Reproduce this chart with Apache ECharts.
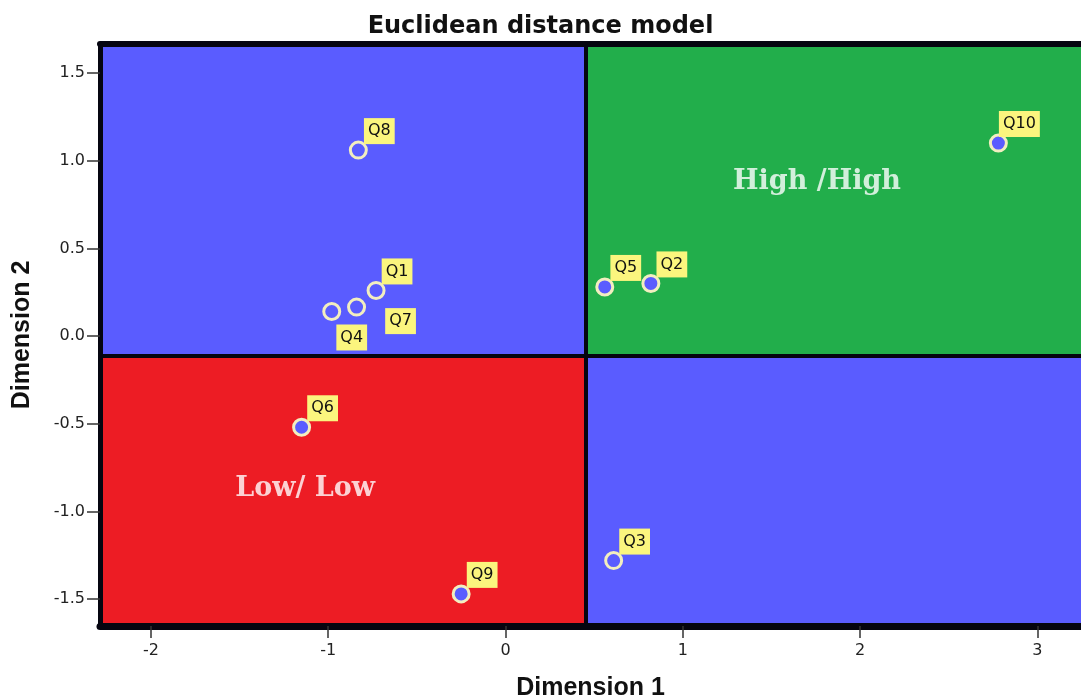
<!DOCTYPE html>
<html>
<head>
<meta charset="utf-8">
<style>
  html, body { margin: 0; padding: 0; background: #ffffff; }
  #chart { width: 1081px; height: 700px; }
</style>
<script src="https://cdn.jsdelivr.net/npm/echarts@6/dist/echarts.min.js"></script>
</head>
<body>
<div id="chart"></div>
<script>
// ---- data ----
var pointNames = ['Q1', 'Q2', 'Q3', 'Q4', 'Q5', 'Q6', 'Q7', 'Q8', 'Q9', 'Q10'];
var dimension1 = [-0.73, 0.82, 0.61, -0.98, 0.56, -1.15, -0.84, -0.83, -0.25, 2.78];
var dimension2 = [0.26, 0.30, -1.28, 0.14, 0.28, -0.52, 0.165, 1.06, -1.47, 1.10];

var xTicks = [-2, -1, 0, 1, 2, 3];
var yTicks = [-1.5, -1.0, -0.5, 0.0, 0.5, 1.0, 1.5];

var xRange = [-2.287, 3.246];
var yRange = [-1.653, 1.665];

// quadrant split points
var splitX = 0.45;
var splitY = -0.11;

var regionNames = ['High /High', 'Low/ Low'];
var regionX = [1.757, -1.13];
var regionY = [0.88, -0.87];

// ---- style ----
var BLUE = '#5a5cff';
var GREEN = '#22ae4b';
var RED = '#ed1c24';
var LABEL_BG = '#fbf57e';
var defaultOffset = [21, -19];
var specialOffsets = { 'Q7': [44, 14], 'Q4': [20, 26] };

var points = pointNames.map(function (n, i) {
  return {
    name: n,
    value: [dimension1[i], dimension2[i]],
    label: { offset: specialOffsets[n] || defaultOffset }
  };
});

var regions = regionNames.map(function (n, i) {
  return { name: n, value: [regionX[i], regionY[i]] };
});

var chart = echarts.init(document.getElementById('chart'), null, { renderer: 'canvas' });

chart.setOption({
  animation: false,
  title: {
    text: 'Euclidean distance model',
    left: 'center',
    top: 10,
    textStyle: { fontFamily: 'DejaVu Sans', fontWeight: 'bold', fontSize: 24, color: '#111' }
  },
  grid: { left: 100, top: 44, right: 0, bottom: 74, containLabel: false, outerBoundsMode: 'none' },
  xAxis: [{
    type: 'value',
    position: 'bottom',
    min: xRange[0],
    max: xRange[1],
    z: 10,
    name: 'Dimension 1',
    nameLocation: 'middle',
    nameGap: 50,
    nameTextStyle: { fontFamily: 'Liberation Sans', fontWeight: 'bold', fontSize: 25, color: '#111' },
    axisLine: { show: true, onZero: false, lineStyle: { color: '#050510', width: 7 } },
    axisTick: { show: true, length: 12, customValues: xTicks, lineStyle: { color: '#333', width: 1.5 } },
    axisLabel: {
      customValues: xTicks, margin: 17,
      fontFamily: 'DejaVu Sans', fontSize: 16, color: '#222',
      formatter: function (v) { return String(Math.round(v)); }
    },
    splitLine: { show: false }
  }, {
    type: 'value',
    position: 'top',
    min: xRange[0],
    max: xRange[1],
    z: 10,
    axisLine: { show: true, onZero: false, lineStyle: { color: '#050510', width: 6 } },
    axisTick: { show: false },
    axisLabel: { show: false },
    splitLine: { show: false }
  }],
  yAxis: {
    type: 'value',
    min: yRange[0],
    max: yRange[1],
    z: 10,
    name: 'Dimension 2',
    nameLocation: 'middle',
    nameGap: 65,
    nameTextStyle: { fontFamily: 'Liberation Sans', fontWeight: 'bold', fontSize: 25, color: '#111' },
    axisLine: { show: true, onZero: false, lineStyle: { color: '#050510', width: 5 } },
    axisTick: { show: true, length: 13, customValues: yTicks, lineStyle: { color: '#333', width: 1.5 } },
    axisLabel: {
      customValues: yTicks, margin: 15,
      fontFamily: 'DejaVu Sans', fontSize: 16, color: '#222',
      formatter: function (v) { return v.toFixed(1); }
    },
    splitLine: { show: false }
  },
  series: [{
    type: 'scatter',
    name: 'quadrants',
    data: [],
    silent: true,
    markArea: {
      silent: true,
      label: { show: false },
      data: [
        [{ xAxis: xRange[0], yAxis: splitY, itemStyle: { color: BLUE } }, { xAxis: splitX, yAxis: yRange[1] }],
        [{ xAxis: splitX, yAxis: splitY, itemStyle: { color: GREEN } }, { xAxis: xRange[1], yAxis: yRange[1] }],
        [{ xAxis: xRange[0], yAxis: yRange[0], itemStyle: { color: RED } }, { xAxis: splitX, yAxis: splitY }],
        [{ xAxis: splitX, yAxis: yRange[0], itemStyle: { color: BLUE } }, { xAxis: xRange[1], yAxis: splitY }]
      ]
    },
    markLine: {
      silent: true,
      symbol: ['none', 'none'],
      label: { show: false },
      lineStyle: { color: '#050510', width: 4, type: 'solid' },
      data: [{ xAxis: splitX }, { yAxis: splitY }]
    }
  }, {
    type: 'scatter',
    name: 'regions',
    data: regions,
    symbolSize: 0,
    silent: true,
    z: 4,
    label: {
      show: true,
      position: 'inside',
      formatter: '{b}',
      fontFamily: 'DejaVu Serif',
      fontWeight: 'bold',
      fontSize: 27,
      color: '#ffffff'
    }
  }, {
    type: 'scatter',
    name: 'items',
    data: points,
    symbol: 'circle',
    symbolSize: 16,
    z: 5,
    itemStyle: { color: BLUE, borderColor: '#f2eec0', borderWidth: 3, opacity: 1 },
    label: {
      show: true,
      position: 'inside',
      formatter: '{b}',
      fontFamily: 'DejaVu Sans',
      fontSize: 16,
      lineHeight: 17,
      color: '#111',
      backgroundColor: LABEL_BG,
      padding: [5, 4, 4, 4]
    }
  }]
});
</script>
</body>
</html>
